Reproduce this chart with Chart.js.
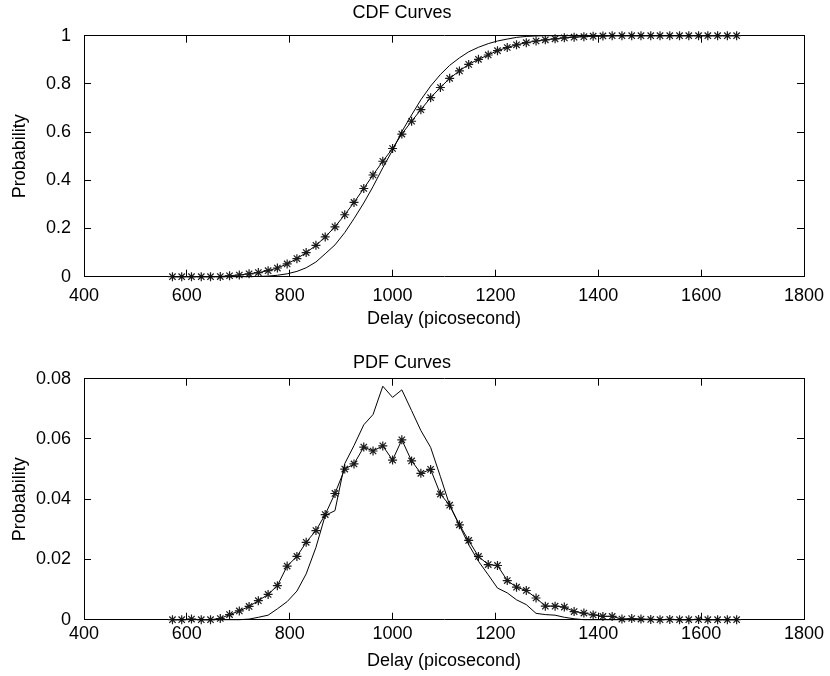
<!DOCTYPE html>
<html>
<head>
<meta charset="UTF-8">
<title>CDF / PDF Curves</title>
<script src="https://cdn.jsdelivr.net/npm/chart.js@4.4.0/dist/chart.umd.min.js"></script>
<style>
    body { margin: 0; background: #fff; }
    .plot { position: absolute; left: 0; width: 830px; height: 330px; }
    #cdfBox { top: 0; }
    #pdfBox { top: 343px; }
</style>
</head>
<body>
<div class="plot" id="cdfBox"><canvas id="cdfChart" width="830" height="330"></canvas></div>
<div class="plot" id="pdfBox"><canvas id="pdfChart" width="830" height="330"></canvas></div>
<script>
// delay samples (picosecond)
const delay = [
    572, 590, 609, 628, 646, 665, 683, 702, 721, 739,
    758, 776, 795, 814, 832, 851, 869, 888, 907, 925,
    944, 962, 981, 1000, 1018, 1037, 1055, 1074, 1093, 1111,
    1130, 1148, 1167, 1186, 1204, 1223, 1241, 1260, 1279, 1297,
    1316, 1334, 1353, 1372, 1390, 1409, 1427, 1446, 1465, 1483,
    1502, 1520, 1539, 1558, 1576, 1595, 1613, 1632, 1651, 1669
];

// '*' curve
const cdfStar = [
    0, 0, 0.0002, 0.0002, 0.0002, 0.0006, 0.004, 0.007, 0.012, 0.017,
    0.025, 0.036, 0.053, 0.075, 0.100, 0.130, 0.165, 0.207, 0.257, 0.308,
    0.366, 0.422, 0.479, 0.532, 0.592, 0.645, 0.693, 0.743, 0.785, 0.823,
    0.854, 0.881, 0.902, 0.920, 0.938, 0.951, 0.962, 0.971, 0.978, 0.983,
    0.987, 0.991, 0.994, 0.996, 0.998, 0.999, 1, 1, 1, 1,
    1, 1, 1, 1, 1, 1, 1, 1, 1, 1
];
// solid curve
const cdfLine = [
    0, 0, 0, 0, 0, 0, 0, 0, 0.0002, 0.001,
    0.0025, 0.006, 0.012, 0.022, 0.037, 0.061, 0.095, 0.132, 0.183, 0.241,
    0.306, 0.374, 0.452, 0.525, 0.602, 0.671, 0.734, 0.791, 0.839, 0.877,
    0.908, 0.933, 0.952, 0.967, 0.978, 0.986, 0.993, 0.997, 0.999, 1,
    1, 1, 1, 1, 1, 1, 1, 1, 1, 1,
    1, 1, 1, 1, 1, 1, 1, 1, 1, 1
];

const pdfStar = [
    0, 0, 0.0002, 0, 0, 0.0004, 0.0017, 0.0029, 0.0044, 0.0063,
    0.0084, 0.0113, 0.0178, 0.0210, 0.0257, 0.0296, 0.0349, 0.0419, 0.0500, 0.0517,
    0.0573, 0.0560, 0.0577, 0.0530, 0.0597, 0.0527, 0.0486, 0.0499, 0.0417, 0.0380,
    0.0315, 0.0263, 0.0210, 0.0183, 0.0180, 0.0130, 0.0108, 0.0097, 0.0072, 0.0045,
    0.0045, 0.0042, 0.0027, 0.0022, 0.0016, 0.0011, 0.0011, 0.0002, 0.0004, 0.0002,
    0.0001, 0, 0.0001, 0, 0, 0.0001, 0, 0, 0, 0
];
const pdfLine = [
    0, 0, 0, 0, 0, 0, 0, 0, 0.0002, 0.0008,
    0.0015, 0.0036, 0.0060, 0.0095, 0.0152, 0.0240, 0.0346, 0.0362, 0.0518, 0.0578,
    0.0647, 0.0681, 0.0775, 0.0738, 0.0763, 0.0694, 0.0628, 0.0572, 0.0475, 0.0380,
    0.0313, 0.0249, 0.0194, 0.0149, 0.0105, 0.0089, 0.0066, 0.0050, 0.0021, 0.0017,
    0.0015, 0.0008, 0.0003, 0, 0, 0, 0, 0, 0, 0,
    0, 0, 0, 0, 0, 0, 0, 0, 0, 0
];

const xTicks = [400, 600, 800, 1000, 1200, 1400, 1600, 1800];
const cdfTicks = [0, 0.2, 0.4, 0.6, 0.8, 1];
const cdfTickLabels = ['0', '0.2', '0.4', '0.6', '0.8', '1'];
const pdfTicks = [0, 0.02, 0.04, 0.06, 0.08];
const pdfTickLabels = ['0', '0.02', '0.04', '0.06', '0.08'];

Chart.defaults.font.family = "'Liberation Sans', Arial, Helvetica, sans-serif";
Chart.defaults.font.size = 18;
Chart.defaults.color = '#000';

function toPoints(ys) {
    return delay.map((x, i) => ({ x: x, y: ys[i] }));
}

// pad: title top, x tick label padding, x axis title bottom padding
function makeChart(id, title, starVals, lineVals, yTicks, yLabels, pad) {
    // matlab style: ticks point into the box
    const inward = { drawOnChartArea: false, drawTicks: true, tickLength: -7, color: '#000', lineWidth: 1 };
    const yMax = yTicks[yTicks.length - 1];
    const setX = s => { s.ticks = xTicks.map(v => ({ value: v })); };
    const setY = s => { s.ticks = yTicks.map(v => ({ value: v })); };
    // keep the box fixed, labels may hang over the edges
    const noPad = s => { s.paddingLeft = 0; s.paddingRight = 0; s.paddingTop = 0; s.paddingBottom = 0; };

    return new Chart(document.getElementById(id), {
        type: 'line',
        data: {
            datasets: [
                {
                    data: toPoints(lineVals),
                    borderColor: '#000',
                    borderWidth: 1,
                    pointRadius: 0,
                    tension: 0,
                    clip: false
                },
                {
                    data: toPoints(starVals),
                    borderColor: '#000',
                    borderWidth: 1,
                    pointStyle: 'star',
                    pointRadius: 4.5,
                    pointBorderWidth: 1.2,
                    pointBorderColor: '#1a1a1a',
                    pointBackgroundColor: '#1a1a1a',
                    tension: 0,
                    clip: false
                }
            ]
        },
        options: {
            responsive: false,
            animation: false,
            events: [],
            layout: { padding: { left: 0, right: 26, top: 0, bottom: 0 } },
            plugins: {
                legend: { display: false },
                tooltip: { enabled: false },
                title: {
                    display: true,
                    text: title,
                    color: '#000',
                    font: { size: 18, weight: 'normal', lineHeight: 1 },
                    padding: { top: pad.title, bottom: 17.7 - pad.title }
                }
            },
            scales: {
                x: {
                    type: 'linear',
                    position: 'bottom',
                    min: 400,
                    max: 1800,
                    afterBuildTicks: setX,
                    afterFit: s => { s.height = 53.3; noPad(s); },
                    ticks: { padding: pad.ticks, maxRotation: 0, autoSkip: false, callback: v => String(v) },
                    grid: inward,
                    border: { color: '#000', width: 1 },
                    title: {
                        display: true,
                        text: 'Delay (picosecond)',
                        font: { size: 18, lineHeight: 1 },
                        padding: { top: 0, bottom: pad.axis }
                    }
                },
                xTop: {
                    type: 'linear',
                    position: 'top',
                    min: 400,
                    max: 1800,
                    afterBuildTicks: setX,
                    afterFit: s => { s.height = 0; noPad(s); },
                    ticks: { display: false },
                    grid: inward,
                    border: { color: '#000', width: 1 }
                },
                y: {
                    type: 'linear',
                    position: 'left',
                    min: 0,
                    max: yMax,
                    afterBuildTicks: setY,
                    afterFit: s => { s.width = 84; noPad(s); },
                    ticks: { padding: 20, callback: (v, i) => yLabels[i] },
                    grid: inward,
                    border: { color: '#000', width: 1 },
                    title: {
                        display: true,
                        text: 'Probability',
                        font: { size: 18, lineHeight: 1 },
                        padding: { top: 11, bottom: 0 }
                    }
                },
                yRight: {
                    type: 'linear',
                    position: 'right',
                    min: 0,
                    max: yMax,
                    afterBuildTicks: setY,
                    afterFit: s => { s.width = 0; noPad(s); },
                    ticks: { display: false },
                    grid: inward,
                    border: { color: '#000', width: 1 }
                }
            }
        }
    });
}

makeChart('cdfChart', 'CDF Curves', cdfStar, cdfLine, cdfTicks, cdfTickLabels, { title: 4, ticks: 16, axis: 2.3 });
makeChart('pdfChart', 'PDF Curves', pdfStar, pdfLine, pdfTicks, pdfTickLabels, { title: 11, ticks: 10.5, axis: 3.3 });
</script>
</body>
</html>
